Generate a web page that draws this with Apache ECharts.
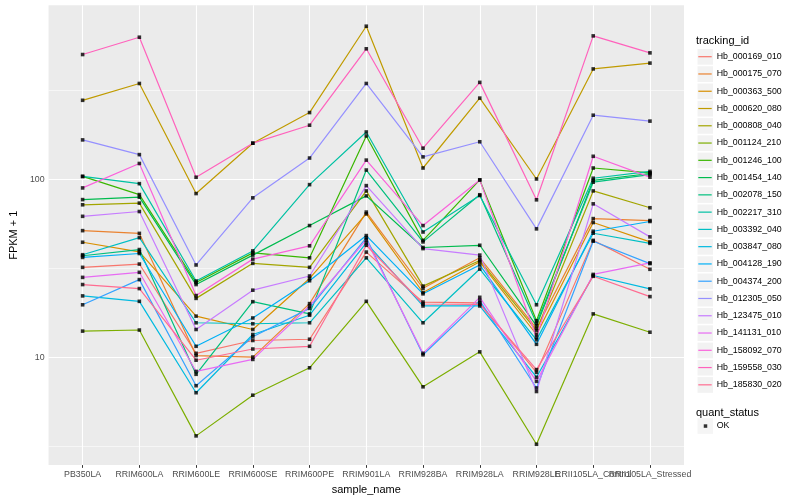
<!DOCTYPE html>
<html><head><meta charset="utf-8">
<script src="https://cdn.jsdelivr.net/npm/echarts@6/dist/echarts.min.js"></script>
<style>html,body{margin:0;padding:0;background:#fff}#c{width:800px;height:500px}</style>
</head><body><div id="c"></div>
<script>
const categories = ['PB350LA','RRIM600LA','RRIM600LE','RRIM600SE','RRIM600PE','RRIM901LA','RRIM928BA','RRIM928LA','RRIM928LE','RRII105LA_Control','RRII105LA_Stressed'];
const trackingIds = ['Hb_000169_010','Hb_000175_070','Hb_000363_500','Hb_000620_080','Hb_000808_040','Hb_001124_210','Hb_001246_100','Hb_001454_140','Hb_002078_150','Hb_002217_310','Hb_003392_040','Hb_003847_080','Hb_004128_190','Hb_004374_200','Hb_012305_050','Hb_123475_010','Hb_141131_010','Hb_158092_070','Hb_159558_030','Hb_185830_020'];
const colors = ['#F8766D','#EA8331','#D89000','#C09B00','#A3A500','#7CAE00','#39B600','#00BB4E','#00BF7D','#00C1A3','#00BFC4','#00BAE0','#00B0F6','#35A2FF','#9590FF','#C77CFF','#E76BF3','#FA62DB','#FF62BC','#FF6C91'];

const hb_000169_010 = [32, 33.4, 10.5, 12.4, 12.6, 39, 20.4, 20.2, 8.2, 45.4, 31.2];
const hb_000175_070 = [51.5, 49.7, 10.2, 10.0, 20, 65.5, 24.4, 36.2, 14.5, 60.2, 58.7];
const hb_000363_500 = [44.3, 39.1, 17, 14.3, 27.7, 64, 23.1, 34.4, 13.4, 57.2, 44.5];
const hb_000620_080 = [279, 347, 83.3, 160, 238, 729, 116, 287, 100.6, 419, 452];
const hb_000808_040 = [72, 73.6, 21.4, 33.7, 32, 86.2, 25.1, 35, 14.1, 86.2, 69.3];
const hb_001124_210 = [14, 14.2, 3.6, 6.1, 8.7, 20.6, 6.8, 10.7, 3.23, 17.5, 13.8];
const hb_001246_100 = [104, 82.2, 26.3, 38.6, 36.2, 175.8, 45.4, 99.4, 16, 116, 109];
const hb_001454_140 = [77, 79.5, 25.6, 37.5, 55, 80.8, 41.4, 42.6, 15, 98.9, 108];
const hb_002078_150 = [37.2, 40.3, 8.0, 20.5, 17.5, 113, 44.5, 82, 15.5, 96.5, 106.5];
const hb_002217_310 = [104, 94.7, 26.8, 39.6, 93.5, 185, 50.6, 81.2, 19.7, 101.6, 111];
const hb_003392_040 = [37.7, 47, 15.6, 15.4, 15.6, 36.2, 15.6, 31.3, 12.5, 49.8, 43.7];
const hb_003847_080 = [22.1, 20.6, 6.3, 13.4, 17.2, 44, 19.4, 19.4, 7.7, 28.8, 24.2];
const hb_004128_190 = [36.4, 38.3, 11.5, 16.6, 26.9, 48.3, 22.7, 33, 11.8, 51.1, 58];
const hb_004374_200 = [19.7, 27.3, 6.9, 13.0, 18.8, 47, 10.3, 20.8, 6.7, 44.9, 33.6];
const hb_012305_050 = [167, 138, 33, 78.8, 132, 347, 134, 163, 52.7, 230, 213];
const hb_123475_010 = [62, 66, 14.3, 23.8, 28.6, 92.3, 40.8, 37.5, 6.4, 72.9, 47.5];
const hb_141131_010 = [28.1, 30, 8.3, 9.7, 19.4, 45.7, 10.5, 21.7, 7.3, 29.2, 33.9];
const hb_158092_070 = [89.6, 123, 22.2, 35.6, 42.3, 128.5, 55, 99.4, 12.9, 135, 103];
const hb_159558_030 = [505, 632, 102.9, 160, 202, 544, 150, 352, 76.8, 643, 516];
const hb_185830_020 = [25.6, 24.3, 9.6, 11.1, 11.5, 42.6, 19.9, 19.8, 8.5, 28.5, 21.9];

const majorY = [10, 100];
const minorY = [3.1623, 31.623, 316.23];

const seriesValues = [hb_000169_010, hb_000175_070, hb_000363_500, hb_000620_080, hb_000808_040, hb_001124_210, hb_001246_100, hb_001454_140, hb_002078_150, hb_002217_310, hb_003392_040, hb_003847_080, hb_004128_190, hb_004374_200, hb_012305_050, hb_123475_010, hb_141131_010, hb_158092_070, hb_159558_030, hb_185830_020];

const FONT = '"Liberation Sans", Arial, Helvetica, sans-serif';
const xTicks = categories.map((c, i) => i);
const evenTicks = xTicks.filter(i => i % 2 === 0);
const oddTicks = xTicks.filter(i => i % 2 === 1);

const lineSeries = trackingIds.map((id, i) => ({
  type: 'line', name: id,
  data: seriesValues[i].map((v, j) => [j, v]),
  showSymbol: false, symbol: 'none',
  lineStyle: { color: colors[i], width: 1.2 },
  itemStyle: { color: colors[i] },
  emphasis: { disabled: true },
  z: 2
}));

const pointData = [];
seriesValues.forEach(arr => arr.forEach((v, j) => pointData.push([j, v])));

const gridSeries = {
  type: 'line', name: '__grid', data: [], z: 1, silent: true,
  markLine: {
    silent: true, symbol: ['none', 'none'], label: { show: false }, animation: false, z: 1,
    emphasis: { disabled: true },
    lineStyle: { color: '#FFFFFF', type: 'solid', width: 1.1 },
    data: [].concat(
      xTicks.map(i => ({ xAxis: i, lineStyle: { color: '#FFFFFF', type: 'solid', width: 1.1 } })),
      majorY.map(v => ({ yAxis: v, lineStyle: { color: '#FFFFFF', type: 'solid', width: 1.1 } })),
      minorY.map(v => ({ yAxis: v, lineStyle: { color: '#FFFFFF', type: 'solid', width: 0.55 } }))
    )
  }
};

const pointSeries = {
  type: 'scatter', name: 'OK', data: pointData,
  symbol: 'rect', symbolSize: 3.6,
  itemStyle: { color: '#000000' }, z: 3, silent: true
};

const LINE_ICON = 'path://M0,0L0,0M13.4,17L13.4,17M0,7.9H13.4V9.1H0Z';
const OK_ICON = 'path://M0,0L0,0M8,15.7L8,15.7M0,6.1H3.5V9.6H0Z';

function xAxisDef(ticks, withName) {
  return {
    type: 'value', min: -0.6, max: 10.6, position: 'bottom',
    splitLine: { show: false }, axisLine: { show: false },
    axisTick: { show: true, length: 2.75, lineStyle: { color: '#333333', width: 1 }, customValues: ticks },
    axisLabel: { customValues: ticks, formatter: v => categories[Math.round(v)] || '', color: '#4D4D4D',
      fontSize: 8.8, fontFamily: FONT, margin: 5, hideOverlap: false, showMinLabel: true, showMaxLabel: true, interval: 0 },
    name: withName ? 'sample_name' : '', nameLocation: 'middle', nameGap: 14,
    nameTextStyle: { fontSize: 11, color: '#000', fontFamily: FONT }
  };
}

const option = {
  animation: false,
  backgroundColor: '#FFFFFF',
  textStyle: { fontFamily: FONT },
  grid: { left: 40, right: 116, top: 5.3, bottom: 32, show: true, backgroundColor: '#EBEBEB', borderWidth: 0 },
  title: [
    { text: 'tracking_id', left: 696, top: 35, padding: 0, textStyle: { fontSize: 11, fontWeight: 'normal', color: '#000', fontFamily: FONT } },
    { text: 'quant_status', left: 696, top: 407, padding: 0, textStyle: { fontSize: 11, fontWeight: 'normal', color: '#000', fontFamily: FONT } }
  ],
  legend: [
    { orient: 'vertical', left: 697.5, top: 49, itemWidth: 15.5, itemHeight: 15.7, itemGap: 1.57, padding: 0,
      icon: 'rect', selectedMode: false, formatter: () => '', z: 3,
      itemStyle: { color: '#F2F2F2', borderWidth: 0 },
      textStyle: { fontSize: 8.8 },
      data: trackingIds.map(id => ({ name: id, icon: 'rect', itemStyle: { color: '#F2F2F2', borderWidth: 0 } })) },
    { orient: 'vertical', left: 698.3, top: 48.2, itemWidth: 13.4, itemHeight: 17, itemGap: 0.27, padding: 0,
      z: 4, itemStyle: { borderWidth: 0 },
      textStyle: { fontSize: 8.8, color: '#000', fontFamily: FONT },
      data: trackingIds.map((id, i) => ({ name: id, icon: LINE_ICON, itemStyle: { color: colors[i], borderWidth: 0 } })) },
    { orient: 'vertical', left: 697.5, top: 418.2, itemWidth: 15.5, itemHeight: 15.7, padding: 0,
      selectedMode: false, formatter: () => '', z: 3,
      data: [{ name: 'OK', icon: 'rect', itemStyle: { color: '#F2F2F2', borderWidth: 0 } }] },
    { orient: 'vertical', left: 703.75, top: 418.2, itemWidth: 8, itemHeight: 15.7, padding: 0, z: 4,
      textStyle: { fontSize: 8.8, color: '#000', fontFamily: FONT },
      data: [{ name: 'OK', icon: OK_ICON, itemStyle: { color: '#000', borderWidth: 0 } }] }
  ],
  xAxis: [xAxisDef(evenTicks, true), xAxisDef(oddTicks, false)],
  yAxis: {
    type: 'log', logBase: 10, min: 2.465, max: 956,
    splitLine: { show: false }, minorSplitLine: { show: false }, axisLine: { show: false },
    axisTick: { show: true, length: 2.75, lineStyle: { color: '#333333', width: 1 } },
    axisLabel: { formatter: v => (Math.abs(v - 10) < 1e-6 || Math.abs(v - 100) < 1e-6) ? String(Math.round(v)) : '',
      color: '#4D4D4D', fontSize: 8.8, fontFamily: FONT, margin: 4, showMinLabel: false, showMaxLabel: false },
    name: 'FPKM + 1', nameLocation: 'middle', nameGap: 23, nameRotate: 90,
    nameTextStyle: { fontSize: 11, color: '#000', fontFamily: FONT }
  },
  series: [gridSeries].concat(lineSeries, [pointSeries])
};

const chart = echarts.init(document.getElementById('c'));
chart.setOption(option);
</script>
</body></html>
